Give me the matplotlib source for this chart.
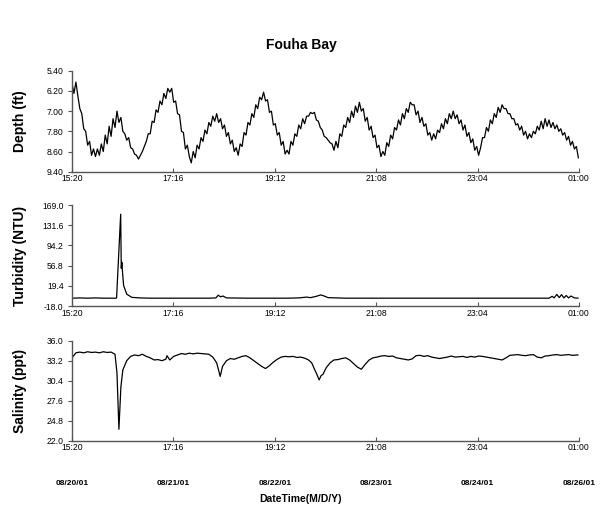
import numpy as np
import matplotlib
matplotlib.use("Agg")
import matplotlib.pyplot as plt

plt.rcParams["font.family"] = ["Liberation Sans", "DejaVu Sans"]

# Depth (ft), one reading every 0.5 h starting 08/20 15:20
depth = [
    5.9, 6.3, 5.85, 6.4, 6.9, 7.1, 7.7, 7.8, 8.35, 8.2, 8.75, 8.5, 8.8, 8.5, 8.75, 8.3, 8.6, 7.95, 8.3, 7.6,
    8.0, 7.3, 7.65, 7.0, 7.45, 7.25, 7.8, 7.9, 8.15, 8.05, 8.45, 8.5, 8.7, 8.75, 8.9, 8.75, 8.6, 8.4, 8.2, 7.9,
    7.9, 7.4, 7.45, 6.95, 7.05, 6.6, 6.75, 6.3, 6.5, 6.1, 6.25, 6.1, 6.65, 6.6, 7.1, 7.15, 7.8, 7.85, 8.5, 8.35,
    8.8, 9.05, 8.6, 8.85, 8.35, 8.5, 8.05, 8.2, 7.75, 7.9, 7.45, 7.6, 7.2, 7.4, 7.1, 7.45, 7.3, 7.7, 7.55, 8.0,
    7.85, 8.3, 8.15, 8.6, 8.45, 8.75, 8.3, 8.4, 7.85, 7.95, 7.45, 7.55, 7.1, 7.25, 6.75, 6.9, 6.45, 6.55, 6.25, 6.6,
    6.55, 7.05, 7.0, 7.55, 7.5, 7.95, 7.85, 8.35, 8.2, 8.7, 8.55, 8.7, 8.2, 8.35, 7.9, 8.0, 7.55, 7.7, 7.3, 7.5,
    7.2, 7.2, 7.05, 7.1, 7.05, 7.35, 7.4, 7.65, 7.75, 8.0, 8.05, 8.15, 8.25, 8.3, 8.55, 8.2, 8.45, 7.9, 8.0, 7.55,
    7.65, 7.25, 7.45, 7.0, 7.25, 6.8, 7.05, 6.65, 7.0, 6.9, 7.4, 7.25, 7.75, 7.6, 8.05, 7.95, 8.45, 8.35, 8.8, 8.6,
    8.75, 8.25, 8.4, 7.95, 8.1, 7.65, 7.75, 7.35, 7.55, 7.1, 7.3, 6.9, 7.05, 6.65, 6.75, 6.75, 7.15, 7.0, 7.45, 7.25,
    7.6, 7.5, 7.95, 7.85, 8.15, 7.9, 8.1, 7.75, 7.85, 7.5, 7.7, 7.3, 7.5, 7.1, 7.3, 7.0, 7.3, 7.15, 7.5, 7.35,
    7.75, 7.55, 8.0, 7.85, 8.25, 8.1, 8.55, 8.4, 8.75, 8.45, 8.05, 8.05, 7.65, 7.8, 7.35, 7.5, 7.1, 7.25, 6.85, 7.05,
    6.75, 6.9, 6.9, 7.1, 7.1, 7.3, 7.3, 7.55, 7.5, 7.75, 7.6, 7.95, 7.8, 8.1, 7.9, 8.05, 7.8, 7.9, 7.6, 7.75,
    7.4, 7.7, 7.3, 7.6, 7.35, 7.65, 7.45, 7.7, 7.55, 7.8, 7.7, 7.95, 7.85, 8.15, 8.0, 8.35, 8.2, 8.5, 8.4, 8.85,
]
depth_hours = np.arange(len(depth)) * 0.5

# Turbidity (NTU)
turb_hours = [0, 2, 4, 6, 8, 10, 11.2, 11.4, 12.45, 12.6, 12.75, 12.95, 13.2, 14.0, 15.3, 17.4, 20, 25, 30, 35,
              36.8, 37.4, 38.0, 38.6, 39.5, 45, 50, 55, 58, 60, 61, 62.5, 63.6, 64.5, 65.5, 70, 80, 90,
              100, 110, 118, 122, 122.8, 123.3, 124.0, 124.6, 125.2, 125.8, 126.4, 127.0, 127.6, 128.5, 129.4]
turb = [-3.5, -3.0, -3.5, -3.0, -3.5, -3.5, -3.5, -3.0, 152, 52, 63, 42, 20, 4, -2, -3, -3.5, -3.5, -3.5, -3.5,
        -3.0, 2.0, -1.0, 0.5, -3.0, -3.5, -3.5, -3.5, -3.0, -1.5, -2.5, 0.0, 2.5, 0.5, -2.5, -3.5, -3.5, -3.5,
        -3.5, -3.5, -3.5, -3.5, 0.0, -3.0, 3.5, -2.5, 3.0, -3.0, 1.5, -3.0, 0.5, -3.0, -3.5]

# Salinity (ppt), roughly hourly plus extra readings in the sharp dip
sal_hours = [0, 1, 2, 3, 4, 5, 6, 7, 8, 9, 10, 11, 11.5, 12.0, 12.5, 13, 14, 15, 16, 17, 18, 19,
             20, 21, 22, 23, 24, 24.3, 25, 26, 27, 28, 29, 30, 31, 32, 33, 34, 35, 36, 37, 37.9, 38.5,
             39.5, 40.5, 41.5, 42.5, 43.5, 44.5, 45.5, 46.5, 47.5, 48.5, 49.5, 50.5, 51.5, 52.5, 53.5,
             54.5, 55.5, 56.5, 57.5, 58.5, 59.5, 60.5, 61.3, 62.1, 62.7, 63.2, 63.7, 64.2, 65.0, 66.0,
             67.0, 68.0, 69.0, 70.0, 71.0, 72.0, 73.0, 74.0, 75.0, 76.0, 77.0, 78.0, 79.0, 80.0, 81.0,
             82.0, 83.0, 84.0, 85.0, 86.0, 87.0, 88.0, 89.0, 90.0, 91.0, 92.0, 93.0, 94.0, 95.0, 96.0,
             97.0, 98.0, 99.0, 100.0, 101.0, 102.0, 103.0, 104.0, 105.0, 106.0, 107.0, 108.0, 109.0,
             110.0, 111.0, 112.0, 113.0, 114.0, 115.0, 116.0, 117.0, 118.0, 119.0, 120.0, 121.0, 122.0,
             123.0, 124.0, 125.0, 126.0, 127.0, 128.0, 129.4]
sal = [33.6, 34.3, 34.4, 34.3, 34.45, 34.35, 34.4, 34.3, 34.45, 34.35, 34.4, 34.1, 31.5, 23.6, 29.5,
       31.9, 33.2, 33.8, 34.0, 33.9, 34.1, 33.8, 33.6, 33.3, 33.35, 33.2, 33.4, 33.9, 33.3, 33.8, 34.0,
       34.2, 34.1, 34.25, 34.15, 34.25, 34.2, 34.15, 34.1, 33.7, 32.9, 31.0, 32.4, 33.2, 33.5, 33.4,
       33.6, 33.8, 33.9, 33.6, 33.2, 32.8, 32.4, 32.1, 32.5, 33.0, 33.4, 33.7, 33.8, 33.75, 33.8, 33.65,
       33.7, 33.55, 33.3, 32.9, 31.9, 31.2, 30.5, 31.1, 31.3, 32.2, 32.9, 33.3, 33.35, 33.5, 33.6, 33.3,
       32.8, 32.3, 32.0, 32.7, 33.3, 33.6, 33.7, 33.85, 33.9, 33.8, 33.85, 33.6, 33.5, 33.4, 33.3, 33.45,
       33.9, 33.95, 33.8, 33.9, 33.7, 33.6, 33.5, 33.6, 33.7, 33.85, 33.7, 33.75, 33.8, 33.65, 33.8,
       33.7, 33.85, 33.8, 33.7, 33.6, 33.5, 33.4, 33.3, 33.6, 33.95, 34.0, 34.05, 33.95, 33.9, 34.0,
       34.05, 33.7, 33.6, 33.85, 33.9, 34.0, 34.05, 33.95, 34.0, 34.05, 33.95, 34.0]

tick_hours = [0, 25.933, 51.867, 77.8, 103.733, 129.667]
time_labels = ["15:20", "17:16", "19:12", "21:08", "23:04", "01:00"]
date_labels = ["08/20/01", "08/21/01", "08/22/01", "08/23/01", "08/24/01", "08/26/01"]

depth_ticks = [5.40, 6.20, 7.00, 7.80, 8.60, 9.40]
turb_ticks = [-18.0, 19.4, 56.8, 94.2, 131.6, 169.0]
sal_ticks = [22.0, 24.8, 27.6, 30.4, 33.2, 36.0]

fig = plt.figure(figsize=(6, 5.15), dpi=100)
left, width = 0.12, 0.845
ax1 = fig.add_axes([left, 0.6666, width, 0.1961])
ax2 = fig.add_axes([left, 0.4058, width, 0.1961])
ax3 = fig.add_axes([left, 0.1443, width, 0.1942])

panels = [
    (ax1, depth_hours, depth, depth_ticks, "{:.2f}", "Depth (ft)"),
    (ax2, turb_hours, turb, turb_ticks, "{:.1f}", "Turbidity (NTU)"),
    (ax3, sal_hours, sal, sal_ticks, "{:.1f}", "Salinity (ppt)"),
]
for ax, x, y, yt, fmt, lab in panels:
    ax.plot(x, y, color="black", lw=0.9)
    ax.set_xlim(tick_hours[0], tick_hours[-1])
    ax.set_ylim(yt[0], yt[-1])
    ax.set_yticks(yt)
    ax.set_yticklabels([fmt.format(v) for v in yt])
    ax.set_xticks(tick_hours)
    ax.set_xticklabels(time_labels)
    for s in ["top", "right"]:
        ax.spines[s].set_visible(False)
    for s in ["left", "bottom"]:
        ax.spines[s].set_color("#555555")
        ax.spines[s].set_linewidth(1.0)
    ax.tick_params(axis="y", direction="out", length=3, width=0.8, color="#555555",
                   labelsize=6.2, pad=3)
    ax.tick_params(axis="x", direction="in", length=3, width=0.8, color="#555555",
                   labelsize=6.2, pad=2)
    ax.set_ylabel(lab, fontsize=10, fontweight="bold")
    ax.yaxis.set_label_coords(-0.088, 0.5)

ax1.invert_yaxis()

for h, d in zip(tick_hours, date_labels):
    ax3.text(h, -0.43, d, transform=ax3.get_xaxis_transform(), ha="center", va="center",
             fontsize=6, fontweight="bold")
fig.text(0.5, 0.032, "DateTime(M/D/Y)", ha="center", va="center", fontsize=7.5, fontweight="bold")
fig.text(0.503, 0.913, "Fouha Bay", ha="center", va="center", fontsize=10, fontweight="bold")

fig.savefig("out.png", dpi=100)
